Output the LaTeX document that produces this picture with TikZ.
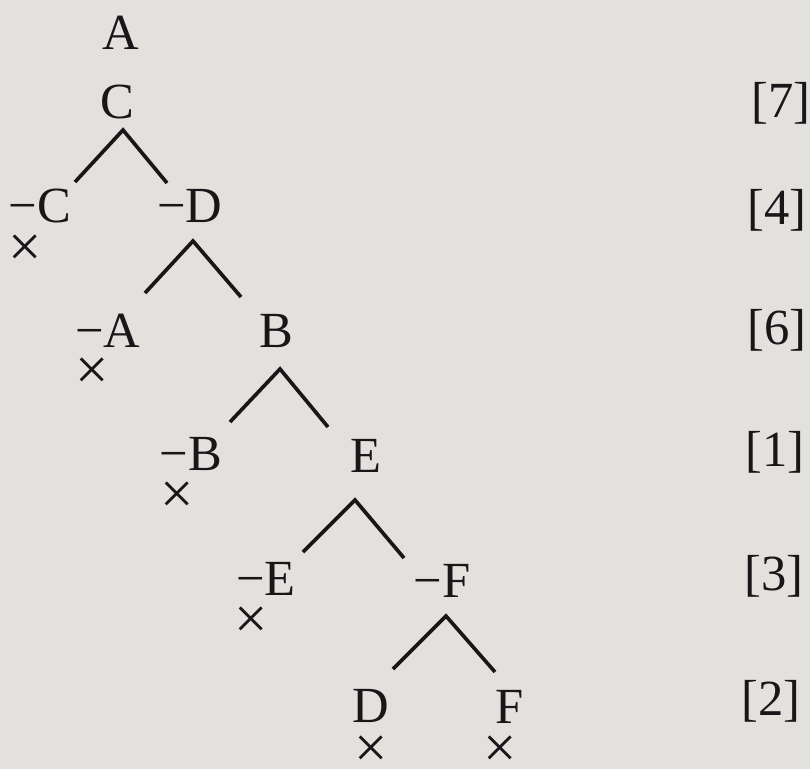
\documentclass[tikz,border=0pt]{standalone}
\usepackage{fontspec}
\setmainfont{Liberation Serif}
\usetikzlibrary{positioning}
\definecolor{TreeInk}{RGB}{24,22,24}
\definecolor{TreePaper}{RGB}{226,225,221}
\tikzset{
  tree label/.style={
    inner sep=0pt,
    anchor=base,
    text=TreeInk,
    font=\fontsize{36}{40}\selectfont
  },
  tree cross/.style={inner sep=0pt, text=TreeInk, font=\fontsize{42}{46}\selectfont},
  tree rank/.style={tree label},
  tree fork/.style={draw=TreeInk, line width=2.6pt, line join=miter}
}

\begin{document}
\begin{tikzpicture}[x=0.025cm, y=-0.025cm]
\fill[TreePaper] (0,0) rectangle (810,769);
\useasboundingbox (0,0) rectangle (810,769);
% formulas of the tableau
\node[tree label] (nA) at (121,49) {A};
\node[tree label] (nC) at (117,118) {C};
\node[tree label] (nnC) at (40,222) {−C};
\node[tree label] (nnD) at (190,222) {−D};
\node[tree label] (nnA) at (108,347) {−A};
\node[tree label] (nB) at (276,347) {B};
\node[tree label] (nnB) at (191,470) {−B};
\node[tree label] (nE) at (366,472) {E};
\node[tree label] (nnE) at (266,595) {−E};
\node[tree label] (nnF) at (442,597) {−F};
\node[tree label] (nD) at (371,722) {D};
\node[tree label] (nF) at (510,723) {F};
% closed branches
\node[tree cross] (x1) at (25,251) {×};
\node[tree cross] (x2) at (92,374) {×};
\node[tree cross] (x3) at (177,498) {×};
\node[tree cross] (x4) at (251,623) {×};
\node[tree cross] (x5) at (371,752) {×};
\node[tree cross] (x6) at (500,752) {×};
% rule numbers
\node[tree rank] (r7) at (781,117) {[7]};
\node[tree rank] (r4) at (777,224) {[4]};
\node[tree rank] (r6) at (777,344) {[6]};
\node[tree rank] (r1) at (775,466) {[1]};
\node[tree rank] (r3) at (774,590) {[3]};
\node[tree rank] (r2) at (771,715) {[2]};
% forks
\coordinate (f1) at (123,130); \coordinate (f1l) at (75,182); \coordinate (f1r) at (167,183);
\coordinate (f2) at (193,241); \coordinate (f2l) at (145,293); \coordinate (f2r) at (241,297);
\coordinate (f3) at (280,369); \coordinate (f3l) at (230,422); \coordinate (f3r) at (328,427);
\coordinate (f4) at (355,500); \coordinate (f4l) at (303,552); \coordinate (f4r) at (404,558);
\coordinate (f5) at (446,616); \coordinate (f5l) at (393,669); \coordinate (f5r) at (495,672);
\foreach \f in {f1,f2,f3,f4,f5}
  \draw[tree fork] (\f l) -- (\f) -- (\f r);
\end{tikzpicture}
\end{document}
